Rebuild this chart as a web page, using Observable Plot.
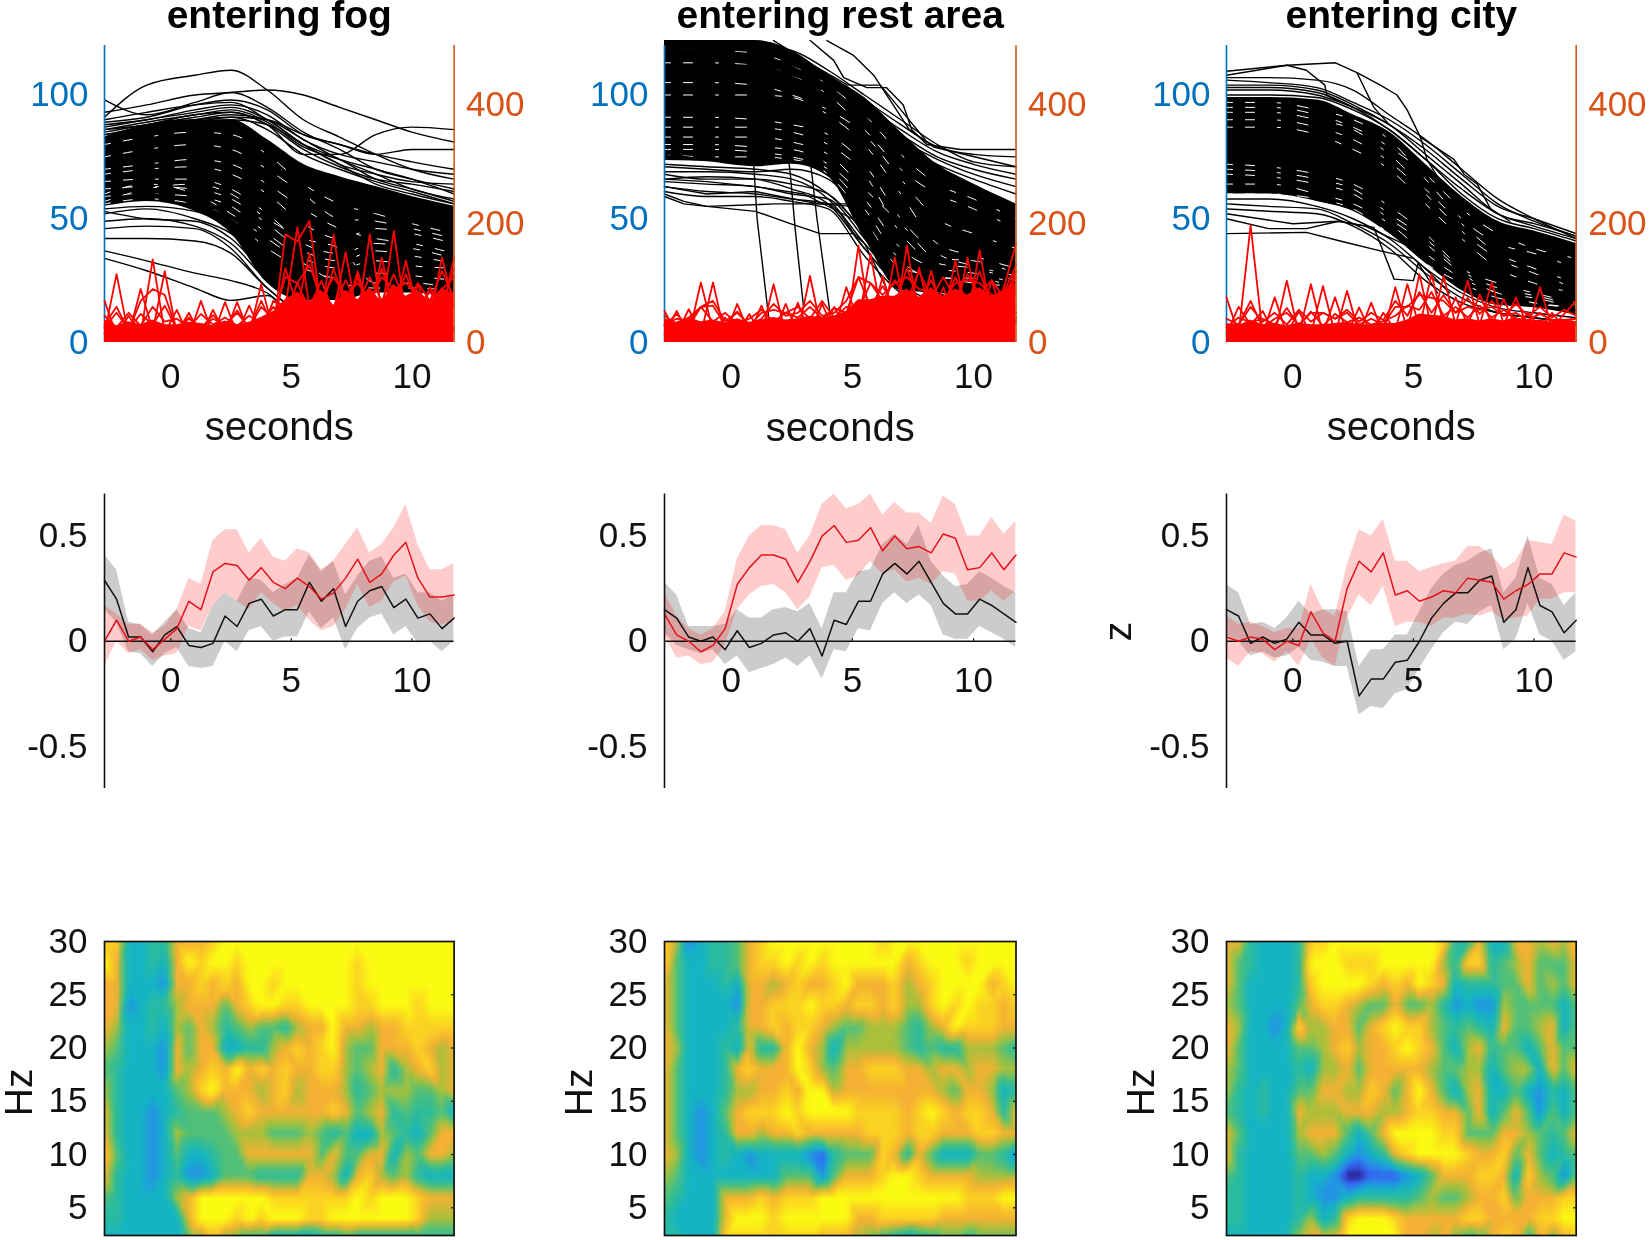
<!DOCTYPE html>
<html><head><meta charset="utf-8">
<script src="https://cdn.jsdelivr.net/npm/d3@7"></script>
<script src="https://cdn.jsdelivr.net/npm/@observablehq/plot@0.6"></script>
<style>
html,body{margin:0;padding:0;background:#fff;overflow:hidden}
#page{position:relative;width:1650px;height:1240px;overflow:hidden;filter:blur(0.7px)}
#page svg{position:absolute;overflow:visible}
</style></head><body><div id="page"></div>
<script>
const titles = ["entering fog","entering rest area","entering city"];
const secTicks = [0,5,10];
const halfSeconds = [-2.75,-2.25,-1.75,-1.25,-0.75,-0.25,0.25,0.75,1.25,1.75,2.25,2.75,3.25,3.75,4.25,4.75,5.25,5.75,6.25,6.75,7.25,7.75,8.25,8.75,9.25,9.75,10.25,10.75,11.25,11.75];
const traceTimes = [-2.75,-1,1,2.5,4,5.5,7,8.5,10,11.75];
const freqs = [30,28,26,24,22,20,18,16,14,12,10,8,6,4,2];
const freqTicks = [5,10,15,20,25,30];

// ---- top row: speed traces (km/h) and event rates -------------------------
const fogBandTop = [83,88,90,90,82,72,67,63,59,55];
const fogBandLow = [55,57,53,44,24,17,17,20,20,18];
const fogTraces = [
 [91,104,108,110,102,90,83,76,70,66],[98,92,97,101,95,85,78,70,66,62],
 [93,96,100,101,102,100,95,90,85,81],[86,88,92,93,88,76,76,84,87,86],
 [89,91,96,98,94,84,80,76,73,70],[88,90,94,96,92,82,76,73,70,68],
 [87,90,93,95,90,80,72,68,65,64],[85,88,91,93,88,78,71,66,64,61],
 [84,87,89,91,90,84,80,76,78,78],[90,93,96,97,90,80,72,64,60,56],
 [84,86,90,92,90,82,74,68,62,58],[82,85,88,90,88,80,74,66,62,57],
 [83,87,90,91,86,76,70,65,61,56],[86,89,92,94,89,79,74,70,66,60],
 [58,60,56,50,36,20,14,10,8,6],[54,55,53,47,32,18,12,10,8,6],[53,50,49,42,27,16,10,8,6,5],
 [52,54,50,44,30,18,10,8,6,5],
 [49,50,47,40,25,15,10,8,6,5],[46,47,46,38,22,12,10,8,6,5],
 [42,42,41,36,22,12,10,8,6,5],[37,33,28,25,20,8,6,5,5,5],[34,29,22,17,19,5,4,4,4,4]];
const fogGaps = [
 [65,66,66,62,52,40,36,40,38,34],[59,60,59,55,44,34,30,33,31,30],
 [56,58,56,50,38,30,26,28,27,25],[68,70,71,68,60,48,42,46,44,40],
 [80,83,85,84,76,64,56,52,48,44],[62,63,62,58,48,37,33,37,35,32],
 [70,72,74,72,64,54,46,42,40,36],[75,78,80,78,70,60,50,49,46,42],
 [57,62,64,60,50,42,38,24,24,22],[60,64,60,52,42,32,24,22,22,21]];
const fogCustom = [];
const fogRedA = [70,12,45,14,140,16,55,10,70,12,68,14,62,18,70,60,194,60,104,50,152,40,182,50,188,40,98,40,143,60];
const fogRedB = [15,115,12,90,20,120,15,50,12,55,14,68,14,98,20,182,170,205,50,182,50,120,50,143,50,138,50,93,50,143];
const fogRedC = [30,60,20,70,90,80,20,40,25,40,30,50,25,60,40,110,100,130,75,110,80,100,70,110,90,100,80,70,90,110];
const fogRedD = [45,25,50,28,60,35,40,25,48,30,42,28,45,32,60,45,100,55,85,60,105,65,110,70,115,65,100,70,120,75];
const fogRedE = [25,50,22,48,30,62,22,42,24,46,26,54,24,70,28,125,60,150,55,125,60,110,55,125,60,115,60,85,60,125];
const fogRedFill = [38,28,35,30,38,30,30,34,32,28,36,30,34,42,52,72,85,68,88,62,88,72,92,68,98,78,88,68,92,80];

const restBandTop = [122,122,122,118,108,99,85,72,64,56];
const restBandLow = [74,73,71,72,67,42,21,20,18,18];
const restTraces = [
 [120,120,120,118,110,100,90,80,73,71],[118,118,118,116,108,98,88,79,76,75],
 [116,116,116,112,106,96,86,77,72,68],[114,114,114,110,104,94,84,75,70,66],
 [112,112,112,108,102,92,82,74,68,63],[110,110,110,106,100,90,80,72,66,60],
 [72,71,70,68,60,45,28,24,20,15],[69,69,68,66,58,40,25,20,15,12],
 [66,67,66,62,56,38,22,15,12,10],[63,61,60,58,56,38,22,15,10,8],[61,59,59,57,54,35,20,14,10,8],
 [71,70,69,70,66,50,30,20,15,12],[68,66,66,64,60,44,26,18,12,10],[65,64,63,60,58,42,24,16,12,9]];
const restGaps = [
 [100,100,100,99,92,80,60,40,35,30],[91,91,90,88,84,72,50,36,31,27],
 [87,87,87,85,80,68,44,32,30,25],[80,80,79,78,72,58,38,30,28,24],
 [78,78,77,75,70,54,33,26,26,22],[76,75,75,74,68,50,30,27,24,23],[113,113,112,108,100,86,70,60,54,46],
 [105,105,104,100,94,84,66,50,44,38],[83,83,83,81,76,62,48,34,33,28],[118,118,117,112,104,92,76,64,58,50]];
const restCustom = [
 {t:[-2.75,0.93,1.07,1.55],v:[76,72,50,10]},
 {t:[-2.75,2.3,2.44,2.65,2.99],v:[81,80,68,45,14]},
 {t:[-2.75,3.27,3.54,4.09],v:[74,73,50,11]},
 {t:[3.95,5.05,5.88,6.15,7,8],v:[122,116,108,104,94,82]},
 {t:[3.26,4.23,4.64,5.6,6.4,7.1,7.45,8.07,9.45,11.75],v:[122,114,107,103,103,96,86,80,78,78]},
 {t:[1.75,3.4,4.8,6.15,7.35,8.35,11.75],v:[122,112,104,104,86,79,71]},
 {t:[-2.75,-1.95,-1,1,2.44,3.67,5.05,5.5,6.4],v:[59,56,55,53,48,44,44,40,22]},
 {t:[-2.75,-1,1,3.6,5.05,5.88],v:[63,60,61,56,55,40]},
 {t:[-2.75,-1.95,-1,1.8,5.05,5.9],v:[60,57,55,56,56,38]},
 {t:[-2.75,-1,1,3,5],v:[66,65,63,60,50]}];
const restRedA = [53,14,56,14,101,12,65,14,62,14,65,14,112,16,60,20,163,30,112,35,163,40,121,40,138,40,155,40,93,166];
const restRedB = [14,53,12,101,20,42,14,48,14,98,14,67,14,65,20,93,35,149,35,143,40,126,40,93,40,143,40,104,40,120];
const restRedC = [30,40,36,60,70,36,50,30,40,65,45,50,70,45,50,70,110,100,80,100,110,90,85,70,100,105,100,80,75,120];
const restRedD = [45,30,42,60,35,50,32,40,55,35,50,60,40,70,42,60,55,100,70,105,70,120,75,110,75,115,80,105,75,110];
const restRedE = [28,48,26,60,62,30,52,28,50,55,50,42,60,40,58,50,110,60,95,60,125,65,105,60,110,65,120,60,85,130];
const restRedFill = [40,34,42,35,38,33,40,34,38,42,38,40,44,42,44,52,72,72,78,78,90,76,92,78,90,80,92,78,88,100];

const cityBandTop = [99,99,98,92,85,72,59,49,45,40];
const cityBandLow = [60,60,57,53,44,32,21,15,14,11];
const cityTraces = [
 [107,107,106,102,92,82,70,58,50,42],[104,104,102,96,88,78,66,55,50,44],
 [102,102,100,95,88,76,64,52,48,43],[100,100,99,94,86,74,60,50,46,41],
 [106,105,103,97,90,80,68,56,49,43],[103,103,101,95,86,74,62,52,47,42],
 [58,58,55,50,42,30,20,14,12,10],[56,55,54,48,40,28,18,12,10,8],[54,53,52,47,38,25,16,12,10,8]];
const cityGaps = [
 [97,97,94,90,82,66,50,40,36,30],[93,93,90,86,76,62,48,36,30,24],
 [87,87,84,78,70,56,42,30,24,20],[72,71,68,64,55,44,30,24,20,16],[68,67,64,60,50,40,28,20,18,14],
 [64,64,60,56,48,36,26,20,16,14],[60,60,58,54,44,32,24,18,16,14],
 [95,95,92,87,79,68,54,44,38,34],[90,90,87,82,73,60,45,34,28,22],[70,69,66,62,52,42,29,22,19,15]];
const cityCustom = [
 {t:[-2.75,-0.24,1.77,2.66,3.63,4.32,4.74,5.29,5.56,6.12],v:[109.6,112,113,109,104,100,94,83,74,65]},
 {t:[-2.75,-0.24,0.56,1.33,1.4,2.5],v:[108,112,110,104,100,95]},
 {t:[2.66,3.36,4],v:[109,95,88]},
 {t:[5.29,6.68,7.1,7.65,8.2,9],v:[83,74,68,64,54,49]},
 {t:[-2.75,0.56,1.96,3.63,5,5.7,6.5],v:[44,44.5,41,37,34,28,20]},
 {t:[-2.75,0,1.9,3.36,4.2,5,5.2,6],v:[52,48,49,46.5,25.6,25,32,20]},
 {t:[-2.75,-1,0.56,1.9,3,5],v:[50,46,46,49,47,38]}];
const cityRedA = [76,14,197,14,76,14,53,14,95,14,87,14,67,14,93,20,115,25,112,30,104,30,101,30,76,25,93,25,48,70];
const cityRedB = [14,60,30,53,14,104,14,98,14,76,14,59,14,50,20,98,25,115,30,76,30,81,30,73,25,50,25,50,25,30];
const cityRedC = [30,30,70,25,40,50,30,50,50,40,50,30,40,30,60,60,80,75,70,50,60,55,60,45,50,36,50,36,36,40];
const cityRedD = [40,30,60,35,50,30,55,35,50,40,55,35,50,38,70,45,85,50,80,50,75,48,70,45,65,45,60,42,55,45];
const cityRedE = [25,42,34,40,30,58,28,52,28,48,34,42,30,36,45,62,55,85,45,60,42,62,42,55,40,38,48,38,38,40];
const cityRedFill = [32,28,38,30,32,28,33,30,30,32,34,30,30,32,32,38,48,46,44,38,40,36,40,36,42,36,38,34,38,35];

// ---- middle row: z scores ------------------------------------------------
const fogRed = [0,.10,0,.02,-.04,.01,.06,.19,.15,.33,.37,.36,.29,.35,.28,.25,.30,.26,.20,.23,.30,.39,.28,.32,.41,.47,.30,.21,.21,.22];
const fogBlack = [.29,.20,.02,.02,-.05,.03,.07,-.02,-.03,-.01,.12,.07,.18,.20,.12,.15,.15,.28,.19,.25,.07,.19,.24,.26,.16,.20,.11,.13,.06,.11];
const fogRedUp = [.17,.13,.08,.08,.04,.07,.15,.30,.27,.48,.53,.53,.42,.49,.40,.38,.44,.42,.34,.38,.46,.54,.42,.46,.54,.65,.46,.34,.34,.37];
const fogRedLow = [-.12,0,-.06,-.04,-.09,-.07,-.06,.07,.05,.17,.23,.19,.15,.23,.18,.14,.17,.10,.05,.07,.15,.27,.16,.19,.28,.31,.17,.09,.08,.09];
const fogGrayUp = [.41,.34,.09,.08,.03,.09,.15,.06,.04,.17,.23,.19,.30,.29,.23,.27,.30,.41,.33,.38,.22,.31,.38,.40,.30,.32,.23,.23,.19,.22];
const fogGrayLow = [.15,.09,-.05,-.06,-.12,-.06,-.03,-.12,-.13,-.12,0,-.05,.05,.07,0,.02,.02,.14,.06,.11,-.04,.06,.11,.13,.03,.07,-.01,0,-.05,0];

const restRed = [.13,.03,0,-.05,-.02,.06,.27,.35,.41,.41,.39,.28,.38,.50,.55,.47,.48,.54,.43,.50,.44,.45,.42,.51,.49,.34,.35,.42,.34,.41];
const restBlack = [.15,.11,.02,0,.02,-.04,.05,-.03,-.01,.03,.04,0,.06,-.07,.10,.08,.19,.19,.32,.37,.32,.38,.28,.18,.13,.13,.20,.17,.13,.09];
const restRedUp = [.23,.12,.06,.03,.06,.14,.39,.50,.55,.55,.53,.42,.50,.65,.70,.63,.65,.70,.60,.66,.61,.61,.56,.69,.65,.50,.50,.59,.51,.57];
const restRedLow = [.03,-.08,-.07,-.11,-.10,-.02,.15,.22,.26,.27,.23,.15,.21,.35,.36,.29,.31,.38,.32,.34,.28,.30,.27,.33,.32,.19,.19,.24,.19,.24];
const restGrayUp = [.28,.22,.07,.07,.07,.08,.15,.11,.11,.15,.16,.14,.18,.06,.23,.23,.33,.34,.46,.51,.46,.55,.38,.31,.26,.27,.33,.30,.26,.23];
const restGrayLow = [.04,-.02,-.04,-.06,-.04,-.11,-.07,-.15,-.13,-.11,-.08,-.12,-.07,-.18,-.04,-.05,.06,.05,.18,.23,.18,.22,.17,.03,.01,.01,.07,.04,.01,-.03];

const cityRed = [.02,0,.02,.01,-.04,0,-.02,.14,.04,0,.25,.38,.33,.42,.22,.24,.19,.21,.24,.23,.30,.29,.28,.20,.24,.27,.32,.32,.42,.40];
const cityBlack = [.15,.12,-.01,.02,-.01,.01,.09,.03,.03,-.01,0,-.26,-.18,-.18,-.10,-.09,0,.11,.18,.23,.23,.29,.31,.09,.15,.35,.17,.14,.04,.10];
const cityRedUp = [.12,.08,.09,.07,.04,.06,.06,.27,.15,.12,.36,.53,.50,.58,.38,.38,.33,.35,.37,.38,.45,.45,.41,.34,.38,.48,.47,.46,.60,.57];
const cityRedLow = [-.08,-.12,-.05,-.06,-.10,-.05,-.12,.01,-.08,-.12,.11,.22,.17,.26,.07,.09,.09,.07,.11,.11,.13,.12,.14,.10,.11,.12,.20,.20,.23,.23];
const cityGrayUp = [.27,.23,.08,.09,.06,.11,.19,.13,.15,.15,.14,-.12,-.04,-.04,.03,.03,.14,.25,.32,.36,.38,.42,.44,.23,.30,.50,.30,.27,.17,.23];
const cityGrayLow = [.03,0,-.07,-.05,-.08,-.07,-.03,-.09,-.10,-.12,-.12,-.35,-.31,-.32,-.25,-.23,-.13,-.04,.04,.09,.08,.14,.17,-.04,.01,.18,.03,0,-.09,-.05];

// ---- bottom row: time-frequency power (ordinal colour level 0 - 9) --------
const fogPower = [
 [8,8,3,3,4,4,7,7,7,8,9,9,9,9,9,9,9,9,9,9,9,9,9,9,9,9,9,9,9,9],
 [9,7,3,3,4,3,7,9,8,9,9,8,9,9,9,9,9,9,9,9,9,8,9,9,9,9,9,9,9,9],
 [7,7,3,3,3,2,7,7,8,7,8,7,9,9,8,9,9,9,9,9,9,8,9,9,9,9,9,9,9,9],
 [7,7,2,3,4,4,6,7,7,7,5,7,8,9,9,8,8,9,9,9,9,8,8,9,9,9,8,9,9,9],
 [7,6,3,3,4,3,6,5,7,6,4,5,6,5,5,4,6,7,7,9,7,7,6,7,7,8,8,8,8,8],
 [6,5,3,3,3,2,7,5,7,7,3,3,4,4,6,7,8,7,8,9,6,5,5,7,7,7,8,7,6,7],
 [5,4,3,3,3,2,7,6,7,8,7,9,7,8,7,8,7,7,8,8,6,5,6,7,4,6,7,8,6,7],
 [6,4,3,3,3,3,5,6,8,9,7,7,7,6,7,8,6,7,7,7,6,4,5,6,6,6,5,5,6,7],
 [7,4,3,3,2,3,4,5,5,5,6,7,8,7,7,7,7,7,7,8,7,5,6,7,4,5,4,4,5,3],
 [7,4,3,3,2,3,6,5,5,5,5,6,6,6,5,5,5,6,5,4,5,3,3,6,5,4,3,5,7,7],
 [8,5,3,3,2,3,5,3,3,4,5,5,7,7,7,7,7,7,5,7,5,5,7,7,3,6,5,7,7,6],
 [7,4,3,3,2,3,4,2,2,3,5,5,5,4,4,4,4,7,7,6,3,7,8,6,5,6,4,3,3,3],
 [5,4,3,3,3,3,6,7,9,9,9,9,9,9,8,8,8,8,8,8,8,9,8,9,9,9,8,7,7,7],
 [4,4,3,3,3,3,3,7,9,9,9,8,9,8,9,9,9,8,8,9,9,9,9,9,9,9,8,6,6,6],
 [3,3,3,3,3,3,3,5,5,7,5,5,4,4,2,2,2,2,3,3,4,3,3,3,3,3,4,4,4,4]];
const restPower = [
 [8,6,2,3,4,4,5,7,8,9,9,9,9,9,9,9,9,9,8,9,9,9,9,9,9,9,9,9,9,9],
 [8,5,3,3,4,4,5,7,8,8,9,8,9,8,9,9,9,9,9,9,7,8,9,9,9,8,9,9,9,9],
 [7,5,3,3,3,4,3,7,7,6,7,8,7,7,8,9,7,7,7,8,6,7,8,9,9,9,9,7,8,9],
 [7,5,3,3,3,3,2,7,7,8,8,8,9,8,8,7,8,8,7,8,6,6,8,9,8,9,8,8,7,8],
 [7,5,3,3,3,3,4,7,7,8,7,8,8,7,6,5,5,6,6,6,5,4,6,7,9,8,8,8,7,7],
 [7,6,3,3,3,4,3,7,4,4,7,9,7,6,3,6,6,6,6,6,5,4,5,4,4,6,6,6,5,4],
 [7,5,3,3,3,4,7,8,7,7,7,9,8,6,5,7,7,8,8,8,7,7,6,7,7,6,7,7,6,6],
 [7,5,3,3,3,4,6,6,7,7,8,7,9,9,6,7,7,7,7,7,7,7,7,6,5,7,7,6,3,4],
 [7,5,3,2,3,5,7,8,8,8,9,8,9,9,9,9,8,8,8,8,7,8,9,8,7,8,8,7,4,7],
 [7,5,3,2,3,4,7,7,6,7,7,8,7,7,7,7,7,8,8,8,7,8,8,7,7,7,8,8,7,7],
 [7,6,3,2,3,4,3,2,3,3,3,3,2,1,4,5,5,5,8,7,4,7,5,3,3,3,5,5,4,2],
 [6,5,3,3,3,3,3,3,3,3,5,5,5,2,5,7,7,7,8,9,9,8,7,7,7,7,6,6,6,6],
 [5,4,3,3,3,7,7,7,8,7,8,8,8,9,9,9,9,9,9,9,9,9,9,9,9,8,8,8,9,9],
 [4,3,3,3,3,7,9,9,9,8,9,9,9,9,9,9,7,7,8,8,8,8,8,7,7,7,7,7,7,7],
 [3,4,3,3,3,8,8,8,8,8,8,8,8,7,7,7,6,5,4,3,2,3,4,5,5,4,5,5,5,5]];
const cityPower = [
 [7,7,4,3,3,3,4,8,8,9,9,9,9,9,9,9,9,9,8,4,4,7,3,3,7,7,6,7,6,8],
 [7,5,4,3,3,3,4,9,9,9,8,8,8,9,9,9,9,9,6,4,8,8,4,5,6,7,5,5,5,7],
 [7,5,3,3,3,3,4,8,9,9,9,9,8,7,8,7,9,8,7,3,4,4,4,5,5,7,5,6,5,7],
 [6,5,3,3,3,3,5,7,8,8,7,6,5,5,7,5,5,6,4,2,3,2,2,6,5,5,5,5,3,5],
 [7,6,3,3,2,3,8,6,6,7,7,5,7,8,9,8,8,6,5,4,5,4,3,7,5,5,6,7,3,5],
 [7,5,3,3,3,3,5,5,6,7,8,6,7,7,8,9,8,7,5,3,6,7,4,5,5,3,5,7,5,5],
 [6,5,3,3,3,3,4,3,6,6,7,5,7,7,7,7,7,6,5,5,6,6,3,5,6,6,3,7,5,7],
 [6,4,3,4,3,3,5,5,7,7,6,6,8,7,5,7,9,7,5,3,6,7,3,3,5,3,2,4,3,5],
 [5,4,3,4,3,3,7,6,6,6,7,7,7,6,6,7,8,8,7,7,5,7,3,5,7,5,2,5,3,5],
 [7,5,3,3,3,3,6,7,7,7,5,3,5,7,9,9,9,9,8,8,5,5,5,7,7,6,5,4,5,7],
 [7,4,3,3,3,3,5,5,6,5,3,2,3,4,7,8,9,9,9,9,8,7,7,8,5,7,5,3,4,5],
 [5,4,3,3,3,3,4,3,3,2,0,0,1,1,1,2,3,5,7,7,7,8,8,7,3,8,6,5,2,5],
 [4,4,3,3,3,3,4,3,2,2,3,4,4,4,4,4,5,6,5,5,6,7,7,8,5,7,7,7,8,8],
 [4,4,3,3,3,3,4,6,3,4,8,9,9,9,8,7,7,7,7,7,8,8,7,7,7,7,8,8,9,9],
 [3,3,3,3,3,3,6,7,7,7,9,9,9,9,9,7,7,6,7,5,4,5,7,8,7,4,7,5,7,8]];
const levels = [0,1,2,3,4,5,6,7,8,9];
const parula = ["#2c1a8a","#3560f0","#2592e6","#14b4c4","#2abba0","#52c078","#a8c03c","#f5b133","#fbd222","#fbfb12"];

// ---- layout ---------------------------------------------------------------
const columns = [
 {key:"fog",left:104,right:453.6},
 {key:"rest",left:664,right:1015.5},
 {key:"city",left:1226,right:1575.7}];
const page = document.getElementById("page");
const font = "'Liberation Sans',Arial,sans-serif";
const ML=110, MR=90, blue="#0072bd", orange="#d95319", tickFont=35;
const xDomain=[-2.75,11.75];
function place(plot,left,top){plot.style.left=left+"px";plot.style.top=top+"px";page.appendChild(plot);}
const base=(c,h,mt,mb)=>({width:ML+(c.right-c.left)+MR,height:h,marginLeft:ML,marginRight:MR,marginTop:mt,marginBottom:mb,
  style:{background:"transparent",overflow:"visible",fontFamily:font},x:{domain:xDomain,axis:null}});

const bundle=(rows,key)=>rows.flatMap((r,i)=>r.map((v,j)=>({t:traceTimes[j],v,id:key+i})));
const custom=list=>list.flatMap((r,i)=>r.t.map((t,j)=>({t,v:r.v[j],id:"c"+i})));
const zip=(arr,id)=>arr.map((v,i)=>({t:halfSeconds[i],v,id}));

const sources={
 fog:{top:fogBandTop,low:fogBandLow,tr:fogTraces,gaps:fogGaps,cu:fogCustom,A:fogRedA,B:fogRedB,C:fogRedC,D:fogRedD,E:fogRedE,F:fogRedFill,
      red:fogRed,black:fogBlack,ru:fogRedUp,rl:fogRedLow,gu:fogGrayUp,gl:fogGrayLow,power:fogPower},
 rest:{top:restBandTop,low:restBandLow,tr:restTraces,gaps:restGaps,cu:restCustom,A:restRedA,B:restRedB,C:restRedC,D:restRedD,E:restRedE,F:restRedFill,
      red:restRed,black:restBlack,ru:restRedUp,rl:restRedLow,gu:restGrayUp,gl:restGrayLow,power:restPower},
 city:{top:cityBandTop,low:cityBandLow,tr:cityTraces,gaps:cityGaps,cu:cityCustom,A:cityRedA,B:cityRedB,C:cityRedC,D:cityRedD,E:cityRedE,F:cityRedFill,
      red:cityRed,black:cityBlack,ru:cityRedUp,rl:cityRedLow,gu:cityGrayUp,gl:cityGrayLow,power:cityPower}};

columns.forEach((c,ci)=>{
  const s=sources[c.key];
  const px=c.left-ML;
  const band=traceTimes.map((t,i)=>({t,y1:s.low[i],y2:s.top[i]}));
  const topA=Plot.plot({...base(c,440,45,98),y:{domain:[0,120],axis:null},marks:[
    Plot.areaY(band,{x:"t",y1:"y1",y2:"y2",fill:"black",curve:"monotone-x"}),
    Plot.line(bundle(s.gaps,"g"),{x:"t",y:"v",z:"id",stroke:"white",strokeWidth:1,strokeDasharray:"6 13 9 23 3 17 11 29",curve:"monotone-x"}),
    Plot.line(bundle(s.tr,"t"),{x:"t",y:"v",z:"id",stroke:"black",strokeWidth:1.4,curve:"monotone-x"}),
    Plot.line(custom(s.cu),{x:"t",y:"v",z:"id",stroke:"black",strokeWidth:1.4}),
    Plot.ruleX([xDomain[0]],{stroke:blue,strokeWidth:1.6}),
    Plot.axisY({ticks:[0,50,100],tickSize:0,tickPadding:16,label:null,color:blue,fontSize:tickFont,anchor:"left"}),
    Plot.axisX({ticks:secTicks,tickSize:0,tickPadding:21,label:null,fontSize:tickFont,color:"#111"}),
    Plot.text([titles[ci]],{frameAnchor:"top",dy:-45,fontSize:39,fontWeight:"bold",fill:"#000"}),
    Plot.text(["seconds"],{frameAnchor:"bottom",dy:98,fontSize:40,fill:"#111"})
  ]});
  place(topA,px,0);
  const redRows=[["A",s.A],["B",s.B],["C",s.C],["D",s.D],["E",s.E]].flatMap(([id,a])=>zip(a,id));
  const fill=zip(s.F,"F");
  const topB=Plot.plot({...base(c,440,45,98),y:{domain:[0,500],axis:null},marks:[
    Plot.areaY(fill,{x:"t",y:"v",fill:"#ff0000"}),
    Plot.line(redRows,{x:"t",y:"v",z:"id",stroke:"#ff0000",strokeWidth:1.8}),
    Plot.ruleX([xDomain[1]],{stroke:orange,strokeWidth:1.6}),
    Plot.axisY({ticks:[0,200,400],tickSize:0,tickPadding:12,label:null,color:orange,fontSize:tickFont,anchor:"right"})
  ]});
  place(topB,px,0);
  const rb=halfSeconds.map((t,i)=>({t,ru:s.ru[i],rl:s.rl[i],gu:s.gu[i],gl:s.gl[i]}));
  const mid=Plot.plot({...base(c,340,33.5,12),y:{domain:[-0.7,0.7],axis:null},marks:[
    Plot.areaY(rb,{x:"t",y1:"gl",y2:"gu",fill:"#000",fillOpacity:0.2,clip:true}),
    Plot.areaY(rb,{x:"t",y1:"rl",y2:"ru",fill:"#ff0000",fillOpacity:0.2,clip:true}),
    Plot.ruleY([0],{stroke:"#111",strokeWidth:1.4}),
    Plot.ruleX(secTicks,{y1:0,y2:0.012,stroke:"#111",strokeWidth:1.2}),
    Plot.line(zip(s.black,"b"),{x:"t",y:"v",stroke:"#111",strokeWidth:1.5}),
    Plot.line(zip(s.red,"r"),{x:"t",y:"v",stroke:"#e8101c",strokeWidth:1.5}),
    Plot.ruleX([xDomain[0]],{stroke:"#111",strokeWidth:1.6}),
    Plot.axisY({ticks:[-0.5,0,0.5],tickFormat:d=>d===0?"0":String(d),tickSize:0,tickPadding:17,label:null,color:"#111",fontSize:tickFont,anchor:"left"}),
    Plot.text(secTicks,{x:d=>d,y:()=>-0.186,text:d=>String(d),fontSize:tickFont,fill:"#111"}),
    ...(ci===2?[Plot.text(["z"],{frameAnchor:"left",dx:-108,y:()=>0,rotate:-90,fontSize:39,fill:"#111"})]:[])
  ]});
  place(mid,px,460);
  const pts=s.power.flatMap((row,r)=>row.map((v,k)=>({t:halfSeconds[k],f:freqs[r],v})));
  const heat=Plot.plot({...base(c,320,21,5),y:{domain:[2.4,30],axis:null},
    color:{type:"linear",domain:levels,range:parula,interpolate:"rgb",clamp:true},marks:[
    Plot.raster(pts,{x:"t",y:"f",fill:"v",interpolate:"barycentric",pixelSize:5}),
    Plot.frame({stroke:"#111",strokeWidth:1.7}),
    Plot.ruleY(freqTicks.slice(0,5),{x1:11.65,x2:11.75,stroke:"#111",strokeWidth:1.2}),
    Plot.axisY({ticks:freqTicks,tickSize:0,tickPadding:17,label:null,color:"#111",fontSize:tickFont,anchor:"left"}),
    Plot.text(["Hz"],{frameAnchor:"left",dx:-85,y:()=>13.6,rotate:-90,fontSize:39,fill:"#111"})
  ]});
  place(heat,px,920);
});
</script></body></html>
